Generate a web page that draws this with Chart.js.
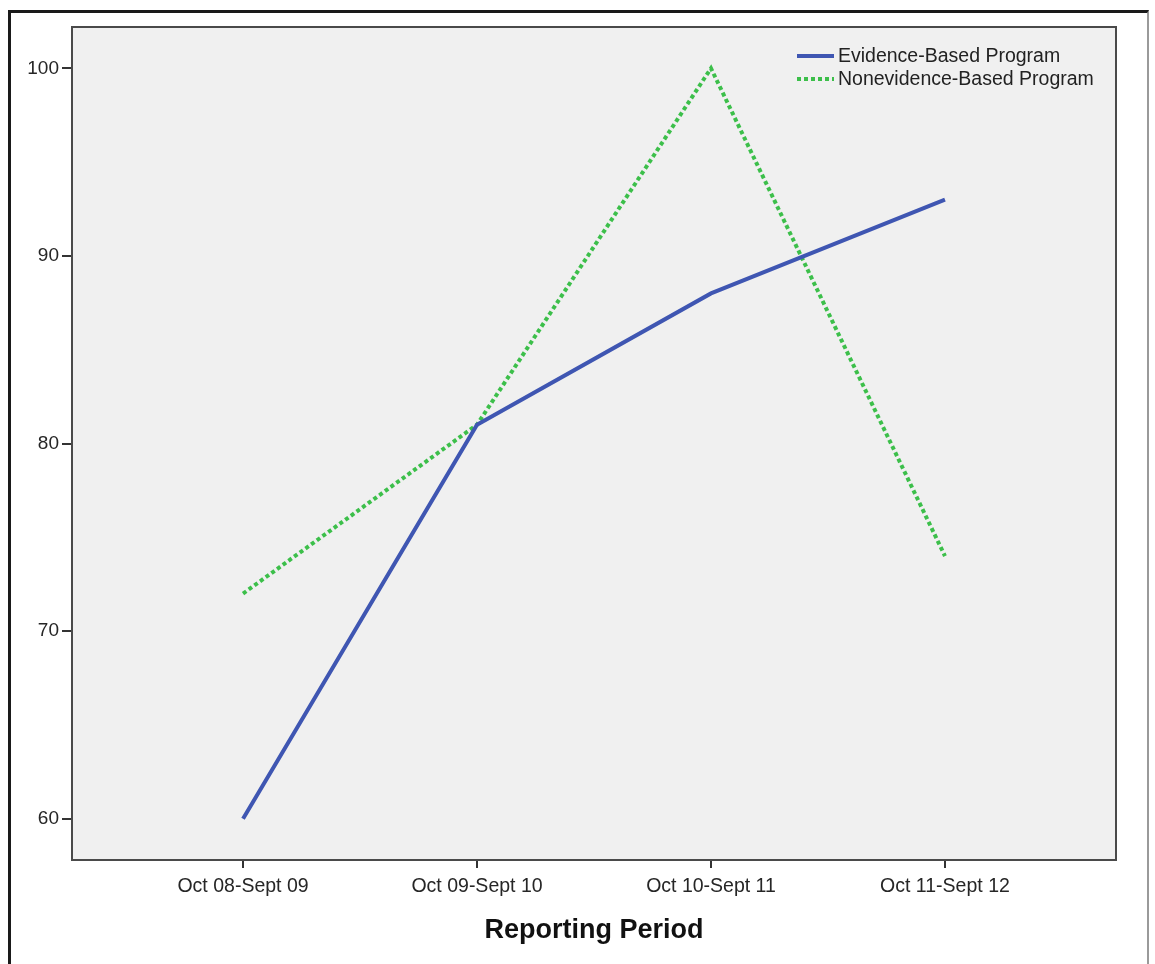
<!DOCTYPE html>
<html>
<head>
<meta charset="utf-8">
<script src="https://cdn.jsdelivr.net/npm/chart.js@4"></script>
<style>
  html, body { margin: 0; padding: 0; background: #fff; }
  #wrap { position: relative; width: 1155px; height: 964px; overflow: hidden; }
  #frame { position: absolute; left: 8px; top: 10px; width: 1141px; height: 970px;
           border-top: 3px solid #1a1a1a; border-left: 3px solid #1a1a1a; border-right: 2px solid #9a9a9a; box-sizing: border-box; }
  canvas { position: absolute; left: 0; top: 0; }
</style>
</head>
<body>
<div id="wrap">
  <div id="frame"></div>
  <canvas id="c" width="1155" height="964"></canvas>
</div>
<script>
const categories = ["Oct 08-Sept 09", "Oct 09-Sept 10", "Oct 10-Sept 11", "Oct 11-Sept 12"];
const evidenceBased = [60, 81, 88, 93];
const nonevidenceBased = [72, 81, 100, 74];
const yTicks = [60, 70, 80, 90, 100];
const seriesNames = ["Evidence-Based Program", "Nonevidence-Based Program"];
const xTitle = "Reporting Period";

const FONT = "'Liberation Sans', Arial, sans-serif";

const plotBg = {
  id: 'plotBg',
  beforeDraw(chart) {
    const {ctx, chartArea: a} = chart;
    ctx.save();
    ctx.fillStyle = '#f0f0f0';
    ctx.fillRect(a.left, a.top, a.right - a.left, a.bottom - a.top);
    ctx.restore();
  },
  afterDraw(chart) {
    const {ctx, chartArea: a} = chart;
    ctx.save();
    ctx.strokeStyle = '#4a4a4a';
    ctx.lineWidth = 2;
    ctx.strokeRect(a.left, a.top, a.right - a.left, a.bottom - a.top);
    ctx.restore();
  }
};

const customLegend = {
  id: 'customLegend',
  afterDatasetsDraw(chart) {
    const {ctx} = chart;
    ctx.save();
    chart.data.datasets.forEach((ds, i) => {
      const y = 56 + i * 23;
      ctx.beginPath();
      ctx.strokeStyle = ds.borderColor;
      ctx.lineWidth = ds.borderWidth;
      ctx.setLineDash(ds.borderDash || []);
      ctx.moveTo(797, y);
      ctx.lineTo(834, y);
      ctx.stroke();
      ctx.setLineDash([]);
      ctx.fillStyle = '#222';
      ctx.font = '19.5px ' + FONT;
      ctx.textAlign = 'left';
      ctx.textBaseline = 'middle';
      ctx.fillText(ds.label, 838, y + 1);
    });
    ctx.restore();
  }
};

new Chart(document.getElementById('c'), {
  type: 'line',
  data: {
    datasets: [
      {
        label: seriesNames[0],
        data: categories.map((c, i) => ({x: i, y: evidenceBased[i]})),
        borderColor: '#3f56b2',
        borderWidth: 4,
        pointRadius: 0,
        tension: 0,
        fill: false
      },
      {
        label: seriesNames[1],
        data: categories.map((c, i) => ({x: i, y: nonevidenceBased[i]})),
        borderColor: '#3cbf4a',
        borderWidth: 4,
        borderDash: [4, 3],
        pointRadius: 0,
        tension: 0,
        fill: false
      }
    ]
  },
  options: {
    responsive: false,
    animation: false,
    layout: { padding: { top: 27, right: 39, left: 0, bottom: 0 } },
    plugins: { legend: { display: false }, tooltip: { enabled: false } },
    scales: {
      x: {
        type: 'linear',
        min: -0.731,
        max: 3.731,
        afterBuildTicks(scale) { scale.ticks = categories.map((c, i) => ({value: i})); },
        afterFit(scale) { scale.height = 104; },
        ticks: {
          callback: (v) => categories[v],
          autoSkip: false,
          maxRotation: 0,
          font: { family: FONT, size: 19.5 },
          color: '#262626',
          padding: 7
        },
        grid: { drawOnChartArea: false, drawTicks: true, tickLength: 8, color: '#333', lineWidth: 2 },
        border: { display: false },
        title: {
          display: true,
          text: xTitle,
          font: { family: FONT, size: 27, weight: 'bold' },
          color: '#111',
          padding: { top: 0, bottom: 17 }
        }
      },
      y: {
        min: 57.8,
        max: 102.2,
        afterBuildTicks(scale) { scale.ticks = yTicks.map(v => ({value: v})); },
        afterFit(scale) { scale.width = 72; },
        ticks: {
          font: { family: FONT, size: 19 },
          color: '#262626',
          padding: 3
        },
        grid: { drawOnChartArea: false, drawTicks: true, tickLength: 10, color: '#333', lineWidth: 2 },
        border: { display: false }
      }
    }
  },
  plugins: [plotBg, customLegend]
});
</script>
</body>
</html>
